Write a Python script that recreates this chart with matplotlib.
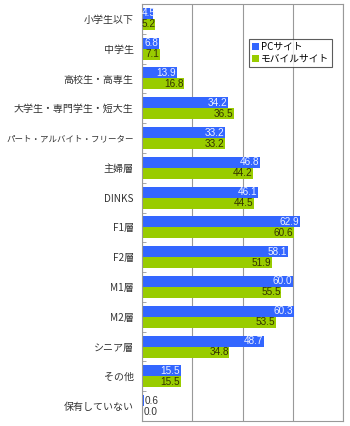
import matplotlib
matplotlib.use("Agg")
import matplotlib.pyplot as plt
import numpy as np

plt.rcParams['font.family'] = ['Noto Sans CJK JP', 'DejaVu Sans']

categories = ["小学生以下", "中学生", "高校生・高専生", "大学生・専門学生・短大生",
              "パート・アルバイト・フリーター", "主婦層", "DINKS", "F1層", "F2層",
              "M1層", "M2層", "シニア層", "その他", "保有していない"]
pc_values = [4.5, 6.8, 13.9, 34.2, 33.2, 46.8, 46.1, 62.9, 58.1, 60.0, 60.3, 48.7, 15.5, 0.6]
mobile_values = [5.2, 7.1, 16.8, 36.5, 33.2, 44.2, 44.5, 60.6, 51.9, 55.5, 53.5, 34.8, 15.5, 0.0]
series_names = ["PCサイト", "モバイルサイト"]

blue = "#3366FF"
green = "#99CC00"

fig = plt.figure(figsize=(3.5, 4.26), dpi=100)
ax = fig.add_axes([142/350, 1-421/426, (343-142)/350, (421-4)/426])

n = len(categories)
y = np.arange(n)
h = 0.37
ax.barh(y - h/2, pc_values, height=h, color=blue, label=series_names[0])
ax.barh(y + h/2, mobile_values, height=h, color=green, label=series_names[1])

ax.set_xlim(0, 80)
ax.set_ylim(n - 0.5, -0.5)
ax.set_xticks([0, 20, 40, 60, 80])
ax.set_xticklabels([])
ax.tick_params(axis='x', length=0)
ax.grid(axis='x', color='#999999', linewidth=0.8)
ax.set_axisbelow(True)

ax.set_yticks(y)
ax.set_yticklabels(categories, fontsize=7.2, color='#333333')
ax.tick_params(axis='y', length=0, pad=6)
for lbl in ax.get_yticklabels():
    if len(lbl.get_text()) > 12:
        lbl.set_fontsize(6.1)
ax.set_yticks(np.arange(n) + 0.5, minor=True)
ax.tick_params(axis='y', which='minor', length=3, direction='in', color='#999999')

for s in ax.spines.values():
    s.set_color('#999999')
    s.set_linewidth(0.8)

num_font = dict(fontsize=7.2, family='Liberation Sans')
min_x = 5.4
for yi, v in zip(y, pc_values):
    if v < 2:
        ax.text(v + 0.6, yi - h/2, f"{v:.1f}", va='center', ha='left', color='#333333', **num_font)
    else:
        ax.text(max(v - 0.3, min_x), yi - h/2, f"{v:.1f}", va='center', ha='right', color='#EEF2FF', **num_font)
for yi, v in zip(y, mobile_values):
    if v < 2:
        ax.text(v + 0.6, yi + h/2, f"{v:.1f}", va='center', ha='left', color='#333333', **num_font)
    else:
        ax.text(max(v - 0.3, min_x), yi + h/2, f"{v:.1f}", va='center', ha='right', color='#333300', **num_font)

leg = ax.legend(loc='upper left', bbox_to_anchor=((249-142)/201, 1-(39-4)/417),
                fontsize=7, frameon=True, fancybox=False, edgecolor='#333333',
                handlelength=0.7, handleheight=0.7, handletextpad=0.2,
                borderpad=0.3, labelspacing=0.2, borderaxespad=0)
leg.get_frame().set_linewidth(0.8)

fig.savefig("out.png", dpi=100)
